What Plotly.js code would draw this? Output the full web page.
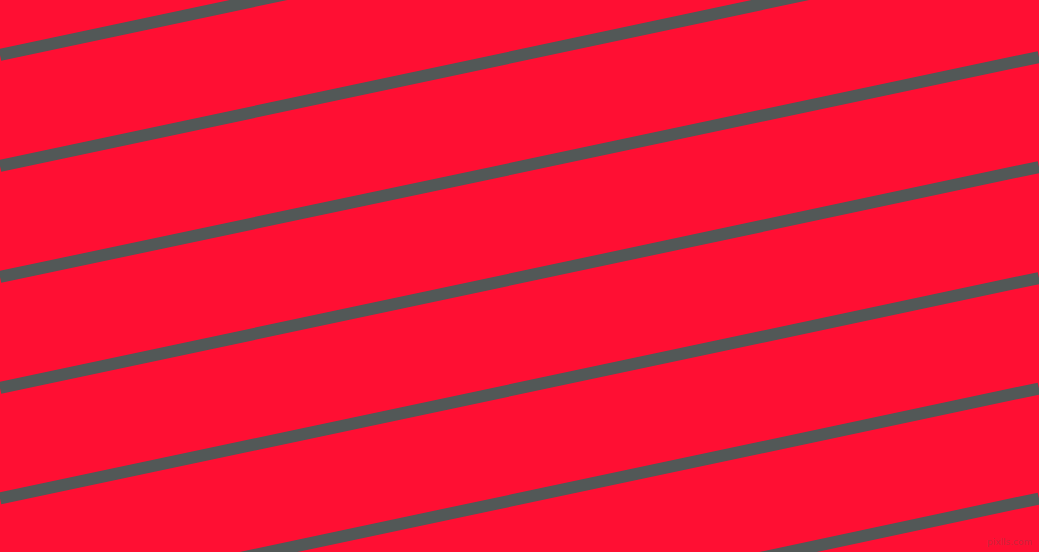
<!DOCTYPE html>
<html>
<head>
<meta charset="utf-8">
<script src="https://cdn.plot.ly/plotly-3.0.1.min.js"></script>
<style>
  html, body { margin: 0; padding: 0; background: #ff0f33; }
  #chart { width: 1039px; height: 552px; }
</style>
</head>
<body>
<div id="chart"></div>
<script>
// stripe edges: y where each stripe meets the left and right border (pixels from top)
const edgeX = [0, 1039];
const leftY = [55, 166, 277, 388, 498.5, 609, 720];
const rightY = [-166, -55, 57, 167, 278, 388.5, 498.5];

const red = '#ff0f33';
const grey = '#525857';

const traces = leftY.map((y0, i) => ({
  x: edgeX,
  y: [y0, rightY[i]],
  type: 'scatter',
  mode: 'lines',
  line: { color: grey, width: 12 },
  hoverinfo: 'skip',
  showlegend: false
}));

Plotly.newPlot('chart', traces, {
  width: 1039,
  height: 552,
  margin: { l: 0, r: 0, t: 0, b: 0, pad: 0 },
  paper_bgcolor: red,
  plot_bgcolor: red,
  xaxis: { range: [0, 1039], visible: false, fixedrange: true },
  yaxis: { range: [552, 0], visible: false, fixedrange: true },
  annotations: [{
    text: 'pixlls.com',
    xref: 'paper', yref: 'paper',
    x: 0.995, y: 0.005,
    xanchor: 'right', yanchor: 'bottom',
    showarrow: false,
    font: { family: 'DejaVu Sans', size: 9, color: 'rgba(90,80,80,0.35)' }
  }]
}, { displayModeBar: false, staticPlot: true });
</script>
</body>
</html>
